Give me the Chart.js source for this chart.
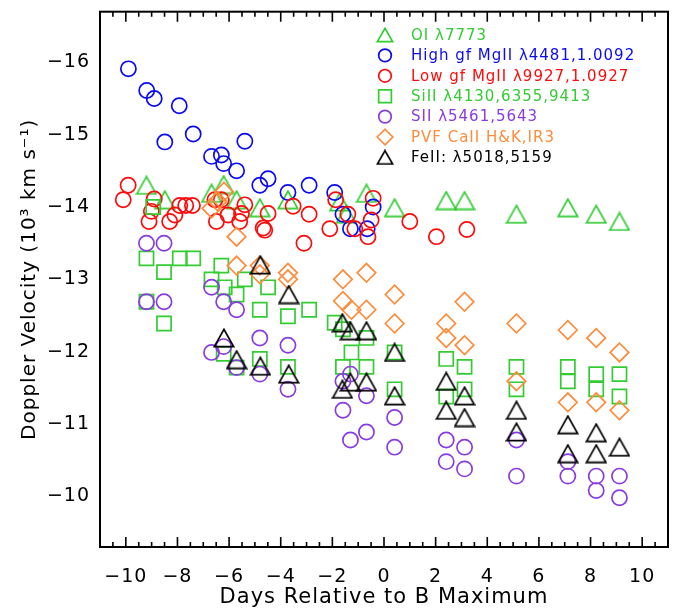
<!DOCTYPE html>
<html><head><meta charset="utf-8">
<script src="https://cdn.jsdelivr.net/npm/chart.js@4/dist/chart.umd.min.js"></script>
<style>html,body{margin:0;padding:0;background:#fff}</style>
</head><body>
<canvas id="c" width="680" height="610" style="width:680px;height:610px;display:block"></canvas>
<script>
// ---- tick labels ----
const xTicks = [-10,-8,-6,-4,-2,0,2,4,6,8,10];
const yTicks = [-16,-15,-14,-13,-12,-11,-10];

// ---- series (x = days, y = velocity in 10^3 km/s) ----
const oiData = [[-9.20,-14.30],[-8.49,-14.10],[-6.68,-14.19],[-6.21,-14.31],[-5.71,-14.10],[-4.81,-13.99],[-3.72,-14.10],[-1.72,-14.07],[-1.46,-13.90],[-0.68,-14.19],[0.41,-13.99],[2.41,-14.09],[3.12,-14.09],[5.13,-13.90],[7.12,-13.99],[8.22,-13.90],[9.12,-13.80]];
const highMgData = [[-9.90,-15.91],[-9.19,-15.61],[-8.90,-15.50],[-8.49,-14.90],[-7.93,-15.40],[-7.39,-15.01],[-6.68,-14.70],[-6.30,-14.72],[-6.21,-14.60],[-5.71,-14.50],[-5.39,-14.91],[-4.81,-14.30],[-4.49,-14.39],[-3.72,-14.20],[-2.90,-14.30],[-1.91,-14.20],[-1.59,-13.90],[-1.30,-13.70],[-0.65,-13.70],[-0.42,-14.00]];
const lowMgData = [[-10.10,-14.10],[-9.91,-14.30],[-8.90,-14.11],[-9.01,-13.94],[-9.10,-13.80],[-8.30,-13.80],[-8.10,-13.89],[-7.91,-14.02],[-7.68,-14.02],[-7.42,-14.02],[-6.49,-13.80],[-6.55,-14.10],[-6.30,-14.10],[-6.04,-13.89],[-5.59,-13.80],[-5.52,-13.91],[-5.39,-14.03],[-4.68,-13.71],[-4.62,-13.68],[-4.49,-13.91],[-3.52,-14.01],[-2.90,-13.90],[-3.10,-13.50],[-2.10,-13.70],[-1.87,-14.10],[-1.40,-13.90],[-1.13,-13.70],[-0.50,-13.82],[-0.62,-13.59],[-0.42,-14.12],[1.00,-13.80],[2.03,-13.59],[3.21,-13.69]];
const siData = [[-8.94,-14.00],[-9.20,-13.29],[-8.52,-13.10],[-7.91,-13.29],[-7.39,-13.29],[-6.30,-13.19],[-6.68,-13.00],[-6.17,-12.89],[-5.39,-13.00],[-5.71,-12.79],[-4.49,-12.89],[-4.81,-12.58],[-3.72,-12.49],[-2.90,-12.58],[-9.20,-12.69],[-8.52,-12.39],[-1.91,-12.40],[-1.59,-12.31],[-1.26,-11.99],[-0.68,-12.19],[-6.21,-11.97],[-5.71,-11.78],[-4.81,-11.90],[-3.72,-11.79],[-1.59,-11.79],[-0.68,-11.79],[0.41,-11.99],[0.41,-11.48],[2.41,-11.90],[2.41,-11.38],[3.12,-11.79],[3.12,-11.48],[5.13,-11.79],[5.13,-11.48],[7.12,-11.79],[7.12,-11.59],[8.22,-11.69],[8.22,-11.48],[9.12,-11.69],[9.12,-11.38]];
const sData = [[-9.20,-13.50],[-8.52,-13.50],[-9.20,-12.69],[-8.52,-12.69],[-6.68,-12.89],[-6.21,-12.69],[-5.71,-12.58],[-6.68,-11.99],[-6.21,-12.07],[-5.71,-11.78],[-4.81,-12.19],[-4.81,-11.69],[-3.72,-12.09],[-3.72,-11.48],[-1.59,-11.59],[-1.30,-11.69],[-1.59,-11.19],[-1.30,-10.78],[-0.68,-11.39],[-0.68,-10.89],[0.41,-11.09],[0.41,-10.68],[2.41,-10.78],[2.41,-10.48],[3.12,-10.68],[3.12,-10.38],[5.13,-10.78],[5.13,-10.28],[7.12,-10.48],[7.12,-10.28],[8.22,-10.28],[8.22,-10.08],[9.12,-10.28],[9.12,-9.98]];
const caData = [[-6.20,-14.21],[-6.45,-14.08],[-6.68,-13.98],[-5.71,-13.59],[-5.71,-13.19],[-4.81,-13.19],[-4.81,-13.07],[-3.72,-13.09],[-3.72,-13.00],[-1.59,-13.00],[-1.59,-12.70],[-1.26,-12.58],[-0.68,-13.09],[-0.68,-12.58],[0.41,-12.79],[0.41,-12.39],[2.41,-12.39],[2.41,-12.19],[3.12,-12.69],[3.12,-12.09],[5.13,-12.39],[5.13,-11.59],[7.12,-12.30],[7.12,-11.30],[8.22,-12.19],[8.22,-11.30],[9.12,-11.99],[9.12,-11.19]];
const feData = [[-4.79,-13.20],[-3.69,-12.79],[-6.20,-12.19],[-5.71,-11.89],[-4.79,-11.80],[-3.69,-11.69],[-1.61,-12.40],[-1.30,-12.29],[-0.68,-12.29],[-1.61,-11.48],[-1.30,-11.58],[-0.68,-11.58],[0.41,-11.99],[0.41,-11.39],[2.41,-11.59],[2.41,-11.19],[3.12,-11.39],[3.12,-11.09],[5.13,-11.19],[5.13,-10.89],[7.12,-10.99],[7.12,-10.59],[8.22,-10.88],[8.22,-10.59],[9.12,-10.68]];

const labels = ['OI \u03bb7773','High gf MgII \u03bb4481,1.0092','Low gf MgII \u03bb9927,1.0927','SiII \u03bb4130,6355,9413','SII \u03bb5461,5643','PVF CaII H&K,IR3','FeII: \u03bb5018,5159'];
const colors = ['#33cc33','#0a0af5','#ff0a0a','#33cc33','#8a3be0','#ff8c3c','#000000'];

function triCanvas(color, w, h, lw){
  const c = document.createElement('canvas');
  c.width = w; c.height = h;
  const g = c.getContext('2d');
  g.strokeStyle = color; g.lineWidth = lw; g.lineJoin = 'miter';
  const p = lw/2+0.5;
  g.beginPath();
  g.moveTo(p, h-p); g.lineTo(w/2, p); g.lineTo(w-p, h-p); g.closePath();
  g.stroke();
  return c;
}
const triGreen = triCanvas(colors[0], 22, 20, 1.7);
const triBlack = triCanvas(colors[6], 22, 20, 1.7);
const triGreenL = triCanvas(colors[0], 18, 16, 1.7);
const triBlackL = triCanvas(colors[6], 18, 16, 1.7);

const styles = [
  {pointStyle: triGreen, radius: 10, legendStyle: triGreenL, legendRadius: 8},
  {pointStyle: 'circle', radius: 7.6, legendStyle: 'circle', legendRadius: 6.3},
  {pointStyle: 'circle', radius: 7.6, legendStyle: 'circle', legendRadius: 6.3},
  {pointStyle: 'rect', radius: 10, legendStyle: 'rect', legendRadius: 9},
  {pointStyle: 'circle', radius: 7.6, legendStyle: 'circle', legendRadius: 6.3},
  {pointStyle: 'rectRot', radius: 9.3, legendStyle: 'rectRot', legendRadius: 7.8},
  {pointStyle: triBlack, radius: 10, legendStyle: triBlackL, legendRadius: 8}
];
const series = [oiData, highMgData, lowMgData, siData, sData, caData, feData];

const datasets = series.map((d, i) => ({
  label: labels[i],
  data: d.map(p => ({x: p[0], y: p[1]})),
  pointStyle: styles[i].pointStyle,
  pointRadius: styles[i].radius,
  pointBorderWidth: 1.7,
  borderColor: colors[i],
  backgroundColor: 'rgba(0,0,0,0)',
  pointBackgroundColor: 'rgba(0,0,0,0)',
  pointBorderColor: colors[i],
  showLine: false,
  order: 7 - i
}));

const fmt = v => (v < 0 ? '\u2212' : '') + Math.abs(v);
const FONT = 'DejaVu Sans';

const spacing = {
  id: 'spacing',
  beforeDraw(chart){ chart.ctx.letterSpacing = '1px'; }
};

const frame = {
  id: 'frame',
  afterDraw(chart){
    const {ctx, chartArea: a, scales: {x, y}} = chart;
    ctx.save();
    ctx.strokeStyle = '#000';
    ctx.lineWidth = 1.6;
    ctx.beginPath();
    for (let k = -22; k <= 22; k++) {
      const v = k / 2;
      const px = x.getPixelForValue(v);
      const L = (k % 4 === 0) ? 10 : 5;
      ctx.moveTo(px, a.bottom); ctx.lineTo(px, a.bottom - L);
      ctx.moveTo(px, a.top); ctx.lineTo(px, a.top + L);
    }
    for (let k = -33; k >= -19; k--) {
      const v = k / 2;
      const py = y.getPixelForValue(v);
      const L = (k % 2 === 0) ? 10 : 5;
      ctx.moveTo(a.left, py); ctx.lineTo(a.left + L, py);
      ctx.moveTo(a.right, py); ctx.lineTo(a.right - L, py);
    }
    ctx.stroke();
    ctx.lineWidth = 2;
    ctx.strokeRect(a.left, a.top, a.right - a.left, a.bottom - a.top);
    ctx.restore();
  }
};

const legendPlugin = {
  id: 'customLegend',
  afterDraw(chart){
    const {ctx, chartArea: a} = chart;
    const mx = a.right - 283, tx = a.right - 257, y0 = a.top + 23.3, dy = 20.4;
    ctx.save();
    ctx.font = '15px "' + FONT + '"';
    ctx.letterSpacing = '1px';
    ctx.textBaseline = 'middle';
    ctx.textAlign = 'left';
    labels.forEach((t, i) => {
      const yy = y0 + i * dy;
      ctx.strokeStyle = colors[i];
      ctx.fillStyle = 'rgba(0,0,0,0)';
      ctx.lineWidth = 1.7;
      Chart.helpers.drawPoint(ctx, {pointStyle: styles[i].legendStyle, radius: styles[i].legendRadius, rotation: 0, borderWidth: 1.7}, mx, yy);
      ctx.fillStyle = colors[i];
      ctx.fillText(t, tx, yy + 1);
    });
    ctx.restore();
  }
};

new Chart(document.getElementById('c'), {
  type: 'scatter',
  data: {datasets},
  options: {
    responsive: false,
    animation: false,
    events: [],
    layout: {padding: {top: 10, right: 12, left: 0, bottom: 0}},
    plugins: {legend: {display: false}, tooltip: {enabled: false}},
    scales: {
      x: {
        type: 'linear', min: -11, max: 11,
        afterBuildTicks: s => { s.ticks = xTicks.map(v => ({value: v})); },
        afterFit: s => { s.height = 63; s.paddingLeft = 0; s.paddingRight = 0; },
        grid: {display: false, drawTicks: false},
        border: {display: false},
        ticks: {callback: v => fmt(v), color: '#000', font: {family: FONT, size: 19}, padding: 19, maxRotation: 0, autoSkip: false},
        title: {display: true, text: 'Days Relative to B Maximum', color: '#000', font: {family: FONT, size: 21}, padding: {top: 0, bottom: 0}}
      },
      y: {
        type: 'linear', min: -16.7, max: -9.3, reverse: true,
        afterBuildTicks: s => { s.ticks = yTicks.map(v => ({value: v})); },
        afterFit: s => { s.width = 100; s.paddingTop = 0; s.paddingBottom = 0; },
        grid: {display: false, drawTicks: false},
        border: {display: false},
        ticks: {callback: v => fmt(v), color: '#000', font: {family: FONT, size: 19}, padding: 10, autoSkip: false},
        title: {display: true, text: 'Doppler Velocity (10\u00b3 km s\u207b\u00b9)', color: '#000', font: {family: FONT, size: 20}, padding: {top: 18, bottom: 0}}
      }
    }
  },
  plugins: [spacing, frame, legendPlugin]
});
</script>
</body></html>
